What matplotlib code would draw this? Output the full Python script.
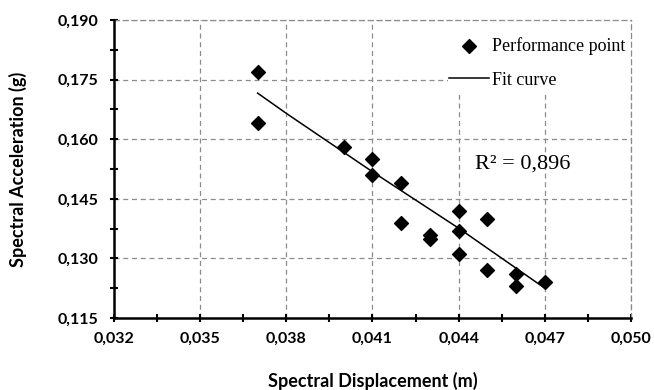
import numpy as np
import matplotlib
matplotlib.use('Agg')
import matplotlib.pyplot as plt
from matplotlib.ticker import FixedLocator, FuncFormatter
from matplotlib.patches import Rectangle

# 散点数据
sd = [0.037, 0.037, 0.040, 0.041, 0.041, 0.042, 0.042, 0.043, 0.043,
      0.044, 0.044, 0.044, 0.045, 0.045, 0.046, 0.046, 0.047]
sa = [0.177, 0.164, 0.158, 0.155, 0.151, 0.149, 0.139, 0.136, 0.135,
      0.142, 0.137, 0.131, 0.140, 0.127, 0.126, 0.123, 0.124]
# 拟合曲线
fit_x = [0.037, 0.038, 0.041, 0.044, 0.047]
fit_y = [0.1716, 0.1665, 0.1518, 0.1376, 0.1225]
x_ticks = [0.032, 0.035, 0.038, 0.041, 0.044, 0.047, 0.050]
y_ticks = [0.115, 0.130, 0.145, 0.160, 0.175, 0.190]
r2_text = 'R² = 0,896'

fig = plt.figure(figsize=(6.54, 3.9), dpi=100)
ax = fig.add_axes([0.1743, 0.1846, 0.7905, 0.7641])

ax.plot(fit_x, fit_y, color='black', linewidth=1.1, label='Fit curve', zorder=3)
ax.scatter(sd, sa, marker='D', s=50, color='black', label='Performance point', zorder=4)

ax.set_xlim(x_ticks[0], x_ticks[-1])
ax.set_ylim(y_ticks[0], y_ticks[-1])
ax.xaxis.set_major_locator(FixedLocator(x_ticks))
ax.xaxis.set_minor_locator(FixedLocator(np.array(x_ticks[:-1]) + 0.0015))
ax.yaxis.set_major_locator(FixedLocator(y_ticks))
ax.yaxis.set_minor_locator(FixedLocator(np.array(y_ticks[:-1]) + 0.0075))
fmt = FuncFormatter(lambda v, p: f'{v:.3f}'.replace('.', ','))
ax.xaxis.set_major_formatter(fmt)
ax.yaxis.set_major_formatter(fmt)

grid_color = '#8c8c8c'
ax.grid(True, which='major', linestyle=(0, (4, 3)), color=grid_color, linewidth=0.9)
ax.set_axisbelow(True)
for s in ['top', 'right']:
    ax.spines[s].set_linestyle((0, (4, 3)))
    ax.spines[s].set_color(grid_color)
    ax.spines[s].set_linewidth(0.9)
for s in ['left', 'bottom']:
    ax.spines[s].set_linewidth(1.8)
    ax.spines[s].set_zorder(5)
ax.tick_params(which='both', direction='inout', length=6, width=1.5, colors='black',
               top=False, right=False)
ax.tick_params(axis='y', which='major', labelsize=11.5, pad=8)
ax.tick_params(axis='x', which='major', labelsize=11.5, pad=7)
for lab in ax.get_xticklabels() + ax.get_yticklabels():
    lab.set_fontfamily('Lato')
    lab.set_fontweight('bold')

ax.set_xlabel('Spectral Displacement (m)', fontfamily='Lato', fontweight='bold', fontsize=13, labelpad=19)
ax.set_ylabel('Spectral Acceleration (g)', fontfamily='Lato', fontweight='bold', fontsize=13, labelpad=22)

# 图例区域的白色背景（遮住网格线）
ax.add_patch(Rectangle((0.04363, 0.1711), 0.050 - 0.04363, 0.190 - 0.1711,
                       facecolor='white', edgecolor='none', zorder=1))
handles, labels = ax.get_legend_handles_labels()
leg = ax.legend(handles[::-1], labels[::-1], loc='upper right', frameon=False,
                bbox_to_anchor=(1.0, 0.962),
                prop={'family': 'Liberation Serif', 'size': 13}, borderaxespad=0.0,
                borderpad=0.3, handlelength=2.2, handletextpad=0.2, labelspacing=0.95)

ax.text(0.04457, 0.1525, r2_text, fontfamily='Liberation Serif', fontsize=16, va='baseline')

plt.savefig('out.png', dpi=100)
plt.close()
